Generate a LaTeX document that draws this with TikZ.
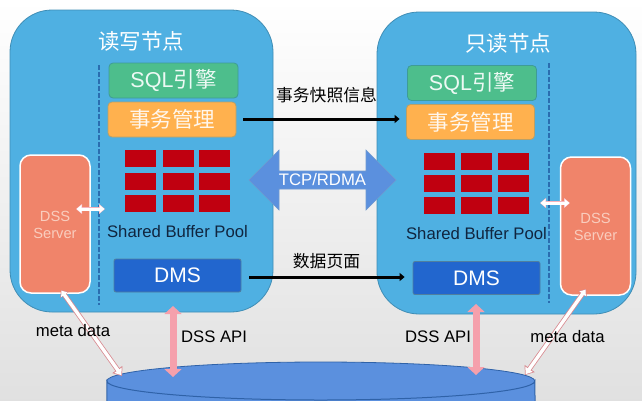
\documentclass[tikz,border=0pt]{standalone}
\usepackage{fontspec}
\setmainfont{Liberation Sans}
\newfontfamily\cjk{Noto Sans CJK SC}
\usetikzlibrary{arrows.meta,shapes.arrows,shapes.geometric}
\definecolor{panelblue}{HTML}{4FB0E2}
\definecolor{panelline}{HTML}{3F8DB5}
\definecolor{sqlgreen}{HTML}{4DBE8C}
\definecolor{sqlline}{HTML}{3E9C96}
\definecolor{txnorange}{HTML}{FFB14E}
\definecolor{txnline}{HTML}{B9A068}
\definecolor{bufred}{HTML}{C00010}
\definecolor{salmon}{HTML}{F0846A}
\definecolor{dmsblue}{HTML}{2266CE}
\definecolor{dmsline}{HTML}{4F7F9F}
\definecolor{dashblue}{HTML}{2A6DB0}
\definecolor{apipink}{HTML}{F5A0AC}
\definecolor{metapink}{HTML}{D98A90}
\definecolor{tcpblue}{HTML}{5B90DE}
\definecolor{tcpline}{HTML}{6F9AD0}
\definecolor{dbblue}{HTML}{5B90DE}
\definecolor{dbline}{HTML}{2F62A8}
\definecolor{navytext}{HTML}{10253F}
\definecolor{dsstext}{HTML}{F9CDBE}
\tikzset{
  x=1pt,y=-1pt,
  panel/.style={draw=panelline,line width=0.8pt,fill=panelblue,rounded corners=42pt,inner sep=0pt,minimum width=#1,minimum height=302pt},
  titletext/.style={text=white,font=\cjk\fontsize{21.5}{24}\selectfont,inner sep=0pt},
  sqlbox/.style={draw=sqlline,line width=0.8pt,fill=sqlgreen,rounded corners=4pt,minimum width=129pt,minimum height=35pt,inner sep=0pt,text=white!90!sqlgreen,font=\fontsize{21.5}{24}\selectfont},
  txnbox/.style={draw=txnline,line width=0.8pt,fill=txnorange,rounded corners=4pt,minimum width=128pt,minimum height=35pt,inner sep=0pt,text=white!90!txnorange,font=\cjk\fontsize{21.5}{24}\selectfont},
  bufcell/.style={fill=bufred,minimum width=31pt,minimum height=17pt,inner sep=0pt},
  buftext/.style={text=navytext,font=\fontsize{16.7}{20}\selectfont,inner sep=0pt},
  dmsbox/.style={draw=dmsline,line width=0.8pt,fill=dmsblue,rounded corners=2pt,minimum width=127pt,minimum height=33pt,inner sep=0pt,text=white,font=\fontsize{21}{24}\selectfont},
  dssbox/.style={draw=white,line width=1.5pt,fill=salmon,rounded corners=11pt,minimum width=70pt,minimum height=138pt,inner sep=0pt},
  dsstxt/.style={text=dsstext,font=\fontsize{14.7}{17}\selectfont,align=center,inner sep=0pt},
  divider/.style={dashblue,line width=2pt,dash pattern=on 5pt off 2pt},
  bigarrow/.style={line width=3pt,-{Triangle[width=8pt,length=5pt]}},
  apiarrow/.style={apipink,line width=7pt,{Triangle[width=17pt,length=8pt]}-{Triangle[width=17pt,length=8pt]}},
  metaout/.style={metapink,line width=5pt,{Triangle[width=10pt,length=6pt]}-{Triangle[width=12pt,length=8pt]}},
  metain/.style={white,line width=3.4pt,shorten <=0.8pt,shorten >=1pt,{Triangle[width=7.5pt,length=5pt]}-{Triangle[width=8.5pt,length=6pt]}},
  linkarrow/.style={white,line width=3pt,shorten <=0.5pt,shorten >=0.5pt,{Triangle[width=8pt,length=5pt]}-{Triangle[width=8pt,length=5pt]}},
  linkback/.style={apipink!80!white,line width=4pt,{Triangle[width=10pt,length=6pt]}-{Triangle[width=10pt,length=6pt]}},
  label/.style={text=black,font=\fontsize{16.7}{20}\selectfont,inner sep=0pt},
  cnlabel/.style={text=black,font=\cjk\fontsize{16.8}{20}\selectfont,inner sep=0pt},
}
\begin{document}
\begin{tikzpicture}
\useasboundingbox (0,0) rectangle (642,400);
\shade[top color=white,middle color=white!97!black,bottom color=white!88!black] (0,0) rectangle (642,400);
\clip (0,0) rectangle (642,400);

% storage: the front arc sits slightly higher than the page edge, as in the reference
\node[ellipse,fill=dbblue,minimum width=428pt,minimum height=38pt,inner sep=0pt] (db) at (321,381) {};
\fill[dbblue] (db.west) rectangle ([yshift=-30pt]db.east);
\draw[dbline,line width=1pt] ([yshift=-30pt]db.west) -- (db.west) arc[start angle=180,end angle=360,x radius=214pt,y radius=19pt] -- ([yshift=-30pt]db.east);
\draw[dbline,line width=0.8pt] (db.west) arc[start angle=180,end angle=0,x radius=214pt,y radius=19pt];

% panels
\node[panel=263pt] (rw) at (141.5,161) {};
\node[panel=259pt] (ro) at (506.5,163) {};
\node[titletext] (rwt) at (141,41) {读写节点};
\node[titletext] (rot) at (508,43) {只读节点};

% dividers
\coordinate (dl1) at (99,65);
\coordinate (dl2) at (99,305);
\coordinate (dr1) at (549,63);
\coordinate (dr2) at (549,303);
\draw[divider] (dl1) -- (dl2);
\draw[divider] (dr1) -- (dr2);

% left stack
\node[sqlbox] (sqlL) at (173.5,80.5) {SQL{\cjk 引擎}};
\node[txnbox] (txnL) at (172,119.5) {事务管理};
\foreach \c/\x in {a/140.5,b/178,c/214.5}
  \foreach \r/\y in {1/158.5,2/181.5,3/203.5}
    \node[bufcell] (bl\c\r) at (\x,\y) {};
\node[buftext] (poolL) at (177.5,232) {Shared Buffer Pool};
\node[dmsbox] (dmsL) at (177.5,275.5) {DMS};
\node[dssbox] (dssL) at (55,224) {};
\node[dsstxt] (dssLt) at (55,224.5) {DSS\\Server};

% right stack
\node[sqlbox] (sqlR) at (472,83) {SQL{\cjk 引擎}};
\node[txnbox] (txnR) at (470.5,122) {事务管理};
\foreach \c/\x in {a/439.5,b/476.5,c/513}
  \foreach \r/\y in {1/161.5,2/183.5,3/205.5}
    \node[bufcell] (br\c\r) at (\x,\y) {};
\node[buftext] (poolR) at (476.5,234) {Shared Buffer Pool};
\node[dmsbox] (dmsR) at (476.5,278) {DMS};
\node[dssbox] (dssR) at (595.5,226) {};
\node[dsstxt] (dssRt) at (595.5,226.5) {DSS\\Server};

% links inside panels
\coordinate (ll1) at (76,209);
\coordinate (ll2) at (105,209);
\coordinate (lr1) at (540,203);
\coordinate (lr2) at (570,203);
\draw[linkback] (ll1) -- (ll2);
\draw[linkarrow] (ll1) -- (ll2);
\draw[linkback] (lr1) -- (lr2);
\draw[linkarrow] (lr1) -- (lr2);

% replication
\draw[bigarrow] ([xshift=7pt,yshift=0.5pt]txnL.east) -- ([xshift=-6.5pt,yshift=3pt]txnR.west);
\draw[bigarrow] ([xshift=8pt,yshift=-1.5pt]dmsL.east) -- ([xshift=-8pt,yshift=1pt]dmsR.west);
\node[cnlabel] (snap) at (326.5,95) {事务快照信息};
\node[cnlabel] (page) at (326.5,261) {数据页面};

\node[double arrow,double arrow head extend=15pt,double arrow head indent=0pt,draw=tcpline,line width=0.6pt,fill=tcpblue,minimum height=147pt,minimum width=60pt,inner sep=0pt,text=white,font=\fontsize{16.7}{20}\selectfont] (tcp) at (322.5,180) {TCP/RDMA};

% storage links
\coordinate (apiL1) at (173,306);
\coordinate (apiL2) at (173,377);
\coordinate (apiR1) at (476,304);
\coordinate (apiR2) at (476,375);
\draw[apiarrow] (apiL1) -- (apiL2);
\draw[apiarrow] (apiR1) -- (apiR2);
\coordinate (mL1) at (61,290);
\coordinate (mL2) at (122,376);
\coordinate (mR1) at (586,289);
\coordinate (mR2) at (525,375);
\draw[metaout] (mL1) -- (mL2);
\draw[metain] (mL1) -- (mL2);
\draw[metaout] (mR1) -- (mR2);
\draw[metain] (mR1) -- (mR2);

\node[label] (apiLt) at (214,337) {DSS API};
\node[label] (apiRt) at (438,337) {DSS API};
\node[label] (metaLt) at (73,331) {meta data};
\node[label] (metaRt) at (567.5,337) {meta data};
\end{tikzpicture}
\end{document}
